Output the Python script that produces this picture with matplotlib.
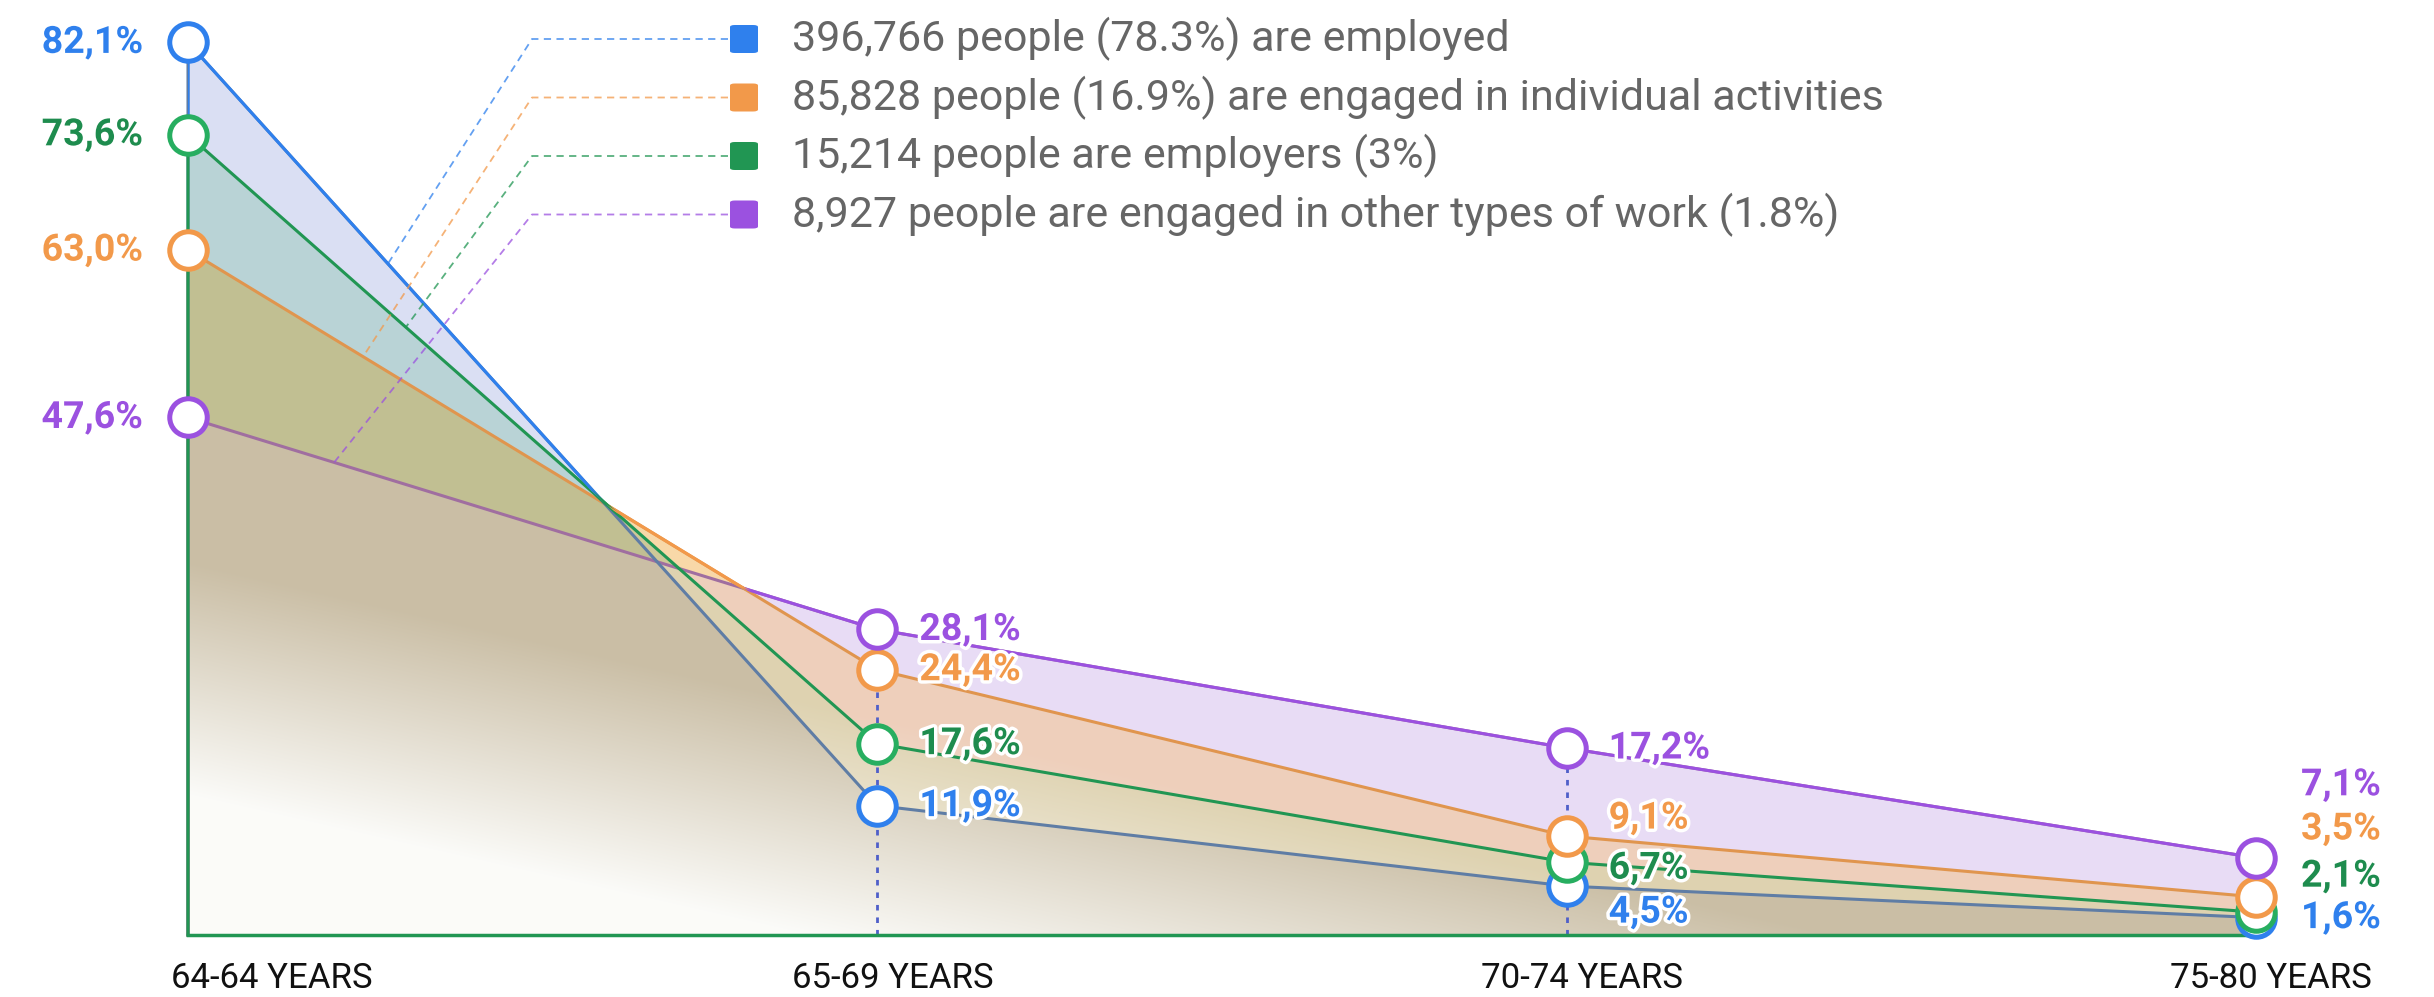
import numpy as np
import matplotlib
matplotlib.use('Agg')
from matplotlib import pyplot as plt
from matplotlib import patheffects
from matplotlib.lines import Line2D
from matplotlib.patches import FancyBboxPatch, Polygon

# data
categories = ['64-64 YEARS', '65-69 YEARS', '70-74 YEARS', '75-80 YEARS']
employed = [82.1, 11.9, 4.5, 1.6]
individual = [63.0, 24.4, 9.1, 3.5]
employers = [73.6, 17.6, 6.7, 2.1]
other = [47.6, 28.1, 17.2, 7.1]

legend_labels = [
    '396,766 people (78.3%) are employed',
    '85,828 people (16.9%) are engaged in individual activities',
    '15,214 people are employers (3%)',
    '8,927 people are engaged in other types of work (1.8%)',
]

W, H = 2434, 997
YMAX = 86

# values, line colour, line colour when covered, marker colour, label colour
series = {
    'employed': (employed, '#2f80ed', '#5f7da5', '#2f80ed', '#2f80ed'),
    'employers': (employers, '#219653', '#219653', '#27ae60', '#1e8c4e'),
    'individual': (individual, '#f2994a', '#e0954e', '#f2994a', '#f2994a'),
    'other': (other, '#9b51e0', '#a06ea0', '#9b51e0', '#9b51e0'),
}
keys = list(series)

# colour of the overlapping translucent areas, keyed by which series cover
# a spot (bit 1 employed, 2 employers, 4 individual, 8 other)
overlap_rgb = {
    1: (218, 223, 243), 2: (203, 226, 216), 3: (185, 211, 214),
    4: (248, 216, 168), 5: (205, 200, 165), 6: (206, 200, 152),
    7: (193, 191, 146), 8: (232, 220, 245), 9: (214, 208, 240),
    10: (210, 214, 222), 11: (196, 204, 214), 12: (238, 207, 187),
    13: (222, 205, 190), 14: (222, 210, 176), 15: (202, 190, 165),
}

x = np.arange(len(categories))

fig = plt.figure(figsize=(W / 100, H / 100), dpi=100)
ax = fig.add_axes([188 / W, 62 / H, (2256 - 188) / W, 935 / H])
ax.set_xlim(0, 3)
ax.set_ylim(0, YMAX)
ax.axis('off')

# areas: one image, coloured by which series lie above each pixel
NX, NY = 2068, 935
gx = (np.arange(NX) + 0.5) / NX * 3
gy = (np.arange(NY) + 0.5) / NY * YMAX
curves = np.array([np.interp(gx, x, series[k][0]) for k in keys])
cover = gy[None, :, None] <= curves[:, None, :]
code = (cover * (1 << np.arange(4))[:, None, None]).sum(0)
lut = np.ones((16, 3))
for c, rgb in overlap_rgb.items():
    lut[c] = np.array(rgb) / 255
img = np.zeros((NY, NX, 4), dtype=np.float32)
img[..., :3] = lut[code]
img[..., 3] = code > 0
# white fade towards the lower left
fx, fy = np.meshgrid(gx / 3, gy / YMAX)
fade = np.clip((0.40 - fy - 0.5 * fx) / 0.25, 0, 1)[..., None]
img[..., :3] = img[..., :3] * (1 - fade) + np.array([0.985, 0.985, 0.975]) * fade
ax.imshow(img, extent=(0, 3, 0, YMAX), origin='lower', aspect='auto',
          interpolation='nearest', zorder=1)

# dotted guides
for i in [1, 2]:
    top = max(s[0][i] for s in series.values())
    ax.plot([i, i], [0, top], color='#4f5fc9', lw=2, ls=(0, (2, 2.5)), zorder=2)

# lines: muted where another area covers them, bright where on top
xs = np.linspace(0, 3, 601)
for key in ['other', 'individual', 'employed', 'employers']:
    vals, lc, mc = series[key][0], series[key][1], series[key][2]
    px, py = np.r_[0, x], np.r_[0, vals]
    ax.plot(px, py, color=mc, lw=2.2, zorder=3, solid_joinstyle='round',
            clip_on=False)
    others = np.max([np.interp(xs, x, series[k][0]) for k in keys if k != key], axis=0)
    top = Polygon(np.c_[np.r_[-0.5, xs, 3.5, 3.5, -0.5],
                        np.r_[others[0], others, others[-1], 200, 200]],
                  closed=True, transform=ax.transData)
    bright, = ax.plot(px, py, color=lc, lw=2.2, zorder=3.2,
                      solid_joinstyle='round')
    bright.set_clip_path(top)
ax.plot([0, 3], [0, 0], color='#219653', lw=2.5, zorder=3.5, clip_on=False)

for key in ['employed', 'employers', 'individual', 'other']:
    vals, mk = series[key][0], series[key][3]
    ax.plot(x, vals, 'o', ms=27, mfc='white', mec=mk, mew=3.6, zorder=6,
            clip_on=False)

# label offsets in pixels (dx, dy) per category
offsets = {
    'employed': [(-45, 0), (42, 0), (42, -26), (45, 0)],
    'individual': [(-45, 0), (42, 0), (42, 18), (45, 68)],
    'employers': [(-45, 0), (42, 0), (42, -6), (45, 36)],
    'other': [(-45, 0), (42, 0), (42, 0), (45, 73)],
}
stroke = [patheffects.withStroke(linewidth=5, foreground='white')]
for key, (vals, _, _, _, tc) in series.items():
    for i, v in enumerate(vals):
        dx, dy = offsets[key][i]
        ax.annotate(f'{v:.1f}%'.replace('.', ','), (i, v), xytext=(dx, dy),
                    textcoords='offset pixels', ha='right' if i == 0 else 'left',
                    va='center', color=tc, fontsize=27, fontweight='bold',
                    family='Roboto', path_effects=stroke, zorder=7,
                    annotation_clip=False)

for i, cat in enumerate(categories):
    ax.annotate(cat, (i, 0), xytext=(-17 if i == 0 else 15, -43),
                textcoords='offset pixels', ha='left' if i == 0 else 'center',
                va='center', fontsize=25, color='#111111', family='Roboto',
                annotation_clip=False)

# legend with dashed leaders to the lines
leader_x = {'employed': 0.290, 'individual': 0.254, 'employers': 0.316, 'other': 0.212}
to_fig = fig.transFigure.inverted()
for row, key in enumerate(['employed', 'individual', 'employers', 'other']):
    vals, lc = series[key][0], series[key][1]
    yp = 39 + row * 58.5
    fy_ = 1 - yp / H
    fig.add_artist(FancyBboxPatch((730 / W, fy_ - 14 / H), 28 / W, 28 / H,
                                  boxstyle='round,pad=0,rounding_size=0.002',
                                  transform=fig.transFigure, color=lc, lw=0))
    fig.text(792 / W, fy_, legend_labels[row], ha='left', va='center',
             fontsize=31, color='#666666', family='Roboto')
    tx = leader_x[key]
    tgt = to_fig.transform(ax.transData.transform((tx, np.interp(tx, x, vals))))
    fig.add_artist(Line2D([728 / W, 532 / W, tgt[0]], [fy_, fy_, tgt[1]],
                          transform=fig.transFigure, color=lc, alpha=0.75,
                          lw=1.3, dashes=(4, 3)))

fig.savefig('out.png', dpi=100)
